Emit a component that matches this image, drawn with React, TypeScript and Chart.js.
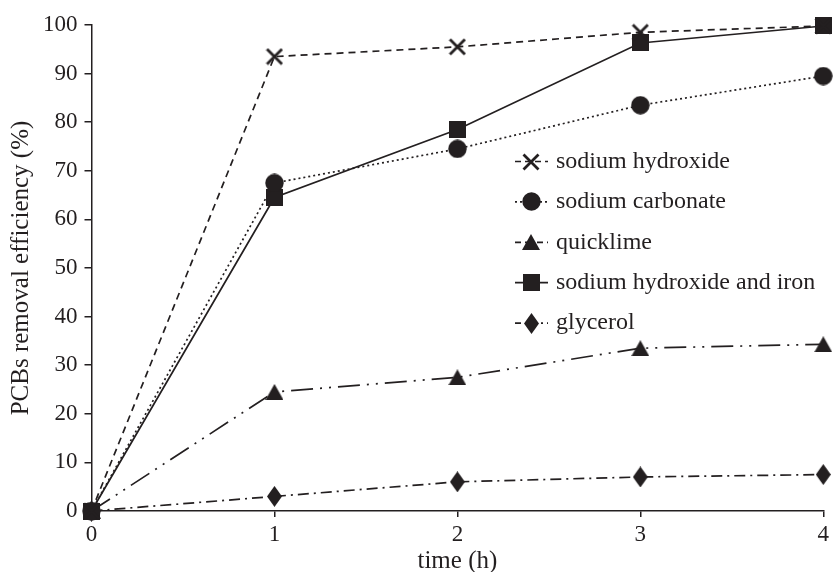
import React, { useEffect, useRef } from "react";
import { Chart, registerables } from "chart.js";

Chart.register(...registerables);

const times = [0, 1, 2, 3, 4];
const seriesNames = [
  "sodium hydroxide",
  "sodium carbonate",
  "quicklime",
  "sodium hydroxide and iron",
  "glycerol",
];
const sodiumHydroxide = [0, 93.5, 95.5, 98.5, 99.8];
const sodiumCarbonate = [0, 67.5, 74.5, 83.5, 89.5];
const quicklime = [0, 24.5, 27.5, 33.5, 34.3];
const sodiumHydroxideIron = [0, 64.5, 78.5, 96.3, 99.8];
const glycerol = [0, 3, 6, 7, 7.5];
const yTicks = [0, 10, 20, 30, 40, 50, 60, 70, 80, 90, 100];
const xTicks = [0, 1, 2, 3, 4];

const INK = "#231f20";
const FONT = "'Liberation Serif', 'DejaVu Serif', serif";

const styles = [
  { dash: [7, 5], marker: "cross" },
  { dash: [2, 3], marker: "circle" },
  { dash: [22, 7, 2, 7, 2, 7], marker: "triangle" },
  { dash: [], marker: "square" },
  { dash: [11, 5, 2, 5], marker: "diamond" },
];

function makeMarker(type: string): HTMLCanvasElement {
  const c = document.createElement("canvas");
  const size: Record<string, [number, number]> = {
    cross: [18, 18],
    circle: [19, 19],
    triangle: [18, 16],
    square: [17, 17],
    diamond: [15, 21],
  };
  const [w, h] = size[type];
  c.width = w;
  c.height = h;
  const ctx = c.getContext("2d") as CanvasRenderingContext2D;
  ctx.fillStyle = INK;
  ctx.strokeStyle = INK;
  ctx.beginPath();
  if (type === "circle") {
    ctx.arc(w / 2, h / 2, w / 2 - 0.3, 0, Math.PI * 2);
    ctx.fill();
  } else if (type === "square") {
    ctx.rect(0, 0, w, h);
    ctx.fill();
  } else if (type === "diamond") {
    ctx.moveTo(w / 2, 0);
    ctx.lineTo(w, h / 2);
    ctx.lineTo(w / 2, h);
    ctx.lineTo(0, h / 2);
    ctx.closePath();
    ctx.fill();
  } else if (type === "triangle") {
    ctx.moveTo(w / 2, 0);
    ctx.lineTo(w, h);
    ctx.lineTo(0, h);
    ctx.closePath();
    ctx.fill();
  } else if (type === "cross") {
    ctx.lineWidth = 2.8;
    ctx.lineCap = "butt";
    ctx.moveTo(1.5, 1.5);
    ctx.lineTo(w - 1.5, h - 1.5);
    ctx.moveTo(w - 1.5, 1.5);
    ctx.lineTo(1.5, h - 1.5);
    ctx.stroke();
  }
  return c;
}

function makeLegendPlugin(markers: HTMLCanvasElement[]) {
  return {
    id: "customLegend",
    afterDraw(chart: any) {
      const ctx = chart.ctx as CanvasRenderingContext2D;
      ctx.save();
      seriesNames.forEach((name, i) => {
        const y = 161.5 + i * 40.4;
        const st = styles[i];
        ctx.strokeStyle = INK;
        ctx.lineWidth = 1.7;
        ctx.setLineDash(
          st.dash.length ? [Math.min(st.dash[0], 6), ...st.dash.slice(1).map((d) => Math.min(d, 4))] : []
        );
        ctx.beginPath();
        ctx.moveTo(515, y);
        ctx.lineTo(548, y);
        ctx.stroke();
        const m = markers[i];
        ctx.drawImage(m, Math.round(531 - m.width / 2), Math.round(y - m.height / 2));
        ctx.setLineDash([]);
        ctx.fillStyle = INK;
        ctx.font = `24px ${FONT}`;
        ctx.textBaseline = "middle";
        ctx.textAlign = "left";
        ctx.fillText(name, 556, y);
      });
      ctx.restore();
    },
  };
}

export default function App() {
  const ref = useRef<HTMLCanvasElement>(null);
  useEffect(() => {
    document.body.style.margin = "0";
    const values = [sodiumHydroxide, sodiumCarbonate, quicklime, sodiumHydroxideIron, glycerol];
    const markers = styles.map((s) => makeMarker(s.marker));
    const chart = new Chart(ref.current as HTMLCanvasElement, {
      type: "line",
      data: {
        datasets: values.map((vals, i) => ({
          label: seriesNames[i],
          data: vals.map((v, j) => ({ x: times[j], y: v })),
          borderColor: INK,
          backgroundColor: INK,
          borderWidth: 1.7,
          borderDash: styles[i].dash,
          pointStyle: markers[i] as any,
          pointRadius: 9,
          fill: false,
          tension: 0,
          clip: false as any,
        })),
      },
      options: {
        responsive: false,
        animation: false,
        layout: { padding: { top: 25, right: 10.5, left: 0, bottom: 0 } },
        plugins: {
          legend: { display: false },
          tooltip: { enabled: false },
        },
        scales: {
          x: {
            type: "linear",
            min: 0,
            max: 4,
            afterBuildTicks: (s: any) => {
              s.ticks = xTicks.map((v) => ({ value: v }));
            },
            afterFit: (s: any) => {
              s.height = 61;
            },
            border: { display: true, color: INK, width: 1.5 },
            grid: { display: true, drawOnChartArea: false, drawTicks: true, tickLength: 6, color: INK, lineWidth: 1.5 },
            ticks: { color: INK, font: { family: FONT, size: 23 }, padding: 4, maxRotation: 0 },
            title: {
              display: true,
              text: "time (h)",
              color: INK,
              font: { family: FONT, size: 25, lineHeight: 1 },
              padding: { top: 0, bottom: -2 },
            },
          },
          y: {
            type: "linear",
            min: 0,
            max: 100,
            afterBuildTicks: (s: any) => {
              s.ticks = yTicks.map((v) => ({ value: v }));
            },
            afterFit: (s: any) => {
              s.width = 91.5;
            },
            border: { display: true, color: INK, width: 1.5 },
            grid: { display: true, drawOnChartArea: false, drawTicks: true, tickLength: 7, color: INK, lineWidth: 1.5 },
            ticks: { color: INK, font: { family: FONT, size: 23 }, padding: 7 },
            title: {
              display: true,
              text: "PCBs removal efficiency (%)",
              color: INK,
              font: { family: FONT, size: 25, lineHeight: 1 },
              padding: { top: 9, bottom: 0 },
            },
          },
        },
      },
      plugins: [makeLegendPlugin(markers)],
    });
    return () => chart.destroy();
  }, []);
  return (
    <div style={{ width: 834, height: 572 }}>
      <canvas ref={ref} width={834} height={572} />
    </div>
  );
}
